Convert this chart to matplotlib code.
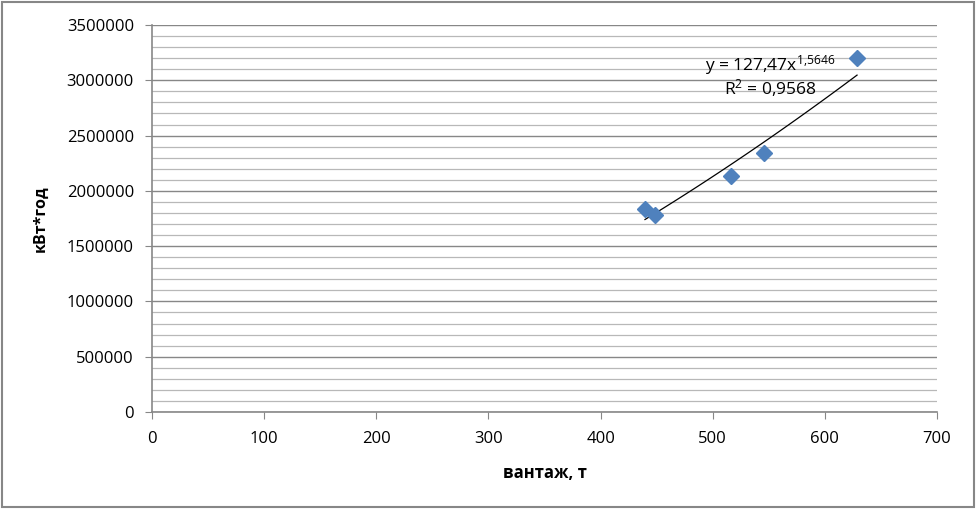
import numpy as np
import matplotlib.pyplot as plt
from matplotlib.patches import Rectangle
from matplotlib.ticker import MultipleLocator

# data
load_t = [439.6, 448.5, 516.3, 545.7, 628.7]
energy_kwh = [1836000, 1782000, 2134000, 2342000, 3202000]

# power trendline as shown in the chart
coef_a = 127.47
coef_b = 1.5646
eq_text = "y = 127,47x$^{1{,}5646}$"
r2_text = "R$^{2}$ = 0,9568"

plt.rcParams['font.family'] = ['Open Sans', 'DejaVu Sans']
plt.rcParams['mathtext.fontset'] = 'custom'
plt.rcParams['mathtext.rm'] = 'Open Sans'
plt.rcParams['mathtext.it'] = 'Open Sans'
plt.rcParams['mathtext.default'] = 'rm'

fig = plt.figure(figsize=(9.77, 5.09), dpi=100)
ax = fig.add_axes([152 / 977, 1 - 412 / 509, (937 - 152) / 977, (412 - 25) / 509])

# gridlines: minor every 100000, major every 500000
ax.set_xlim(0, 700)
ax.set_ylim(0, 3500000)
ax.xaxis.set_major_locator(MultipleLocator(100))
ax.yaxis.set_major_locator(MultipleLocator(500000))
ax.yaxis.set_minor_locator(MultipleLocator(100000))
ax.grid(axis='y', which='major', color='#878787', linewidth=1.0)
ax.grid(axis='y', which='minor', color='#b8b8b8', linewidth=0.9)
ax.set_axisbelow(True)
ax.tick_params(axis='y', which='minor', length=0)
ax.tick_params(axis='both', which='major', direction='out', length=5, color='#878787',
               labelsize=12, labelcolor='black')
ax.tick_params(axis='x', pad=9)
ax.tick_params(axis='y', pad=8)
ax.yaxis.set_major_formatter(plt.FuncFormatter(lambda v, p: f"{int(v)}"))

for side in ['top', 'right']:
    ax.spines[side].set_visible(False)
for side in ['left', 'bottom']:
    ax.spines[side].set_color('#878787')
    ax.spines[side].set_linewidth(1.2)

# points
ax.plot(load_t, energy_kwh, linestyle='none', marker='D', markersize=8,
        color='#4F81BD', markeredgecolor='#4F81BD', zorder=3)

# trendline
xs = np.linspace(min(load_t), max(load_t), 100)
ax.plot(xs, coef_a * xs ** coef_b, color='black', linewidth=0.9, zorder=2)

ax.text(551, 3138000, eq_text, fontsize=12.5, ha='center', va='center')
ax.text(551, 2930000, r2_text, fontsize=12.5, ha='center', va='center')

ax.set_xlabel("вантаж, т", fontsize=12, fontweight='bold', labelpad=12)
ax.set_ylabel("кВт*год", fontsize=11.5, fontweight='bold', labelpad=13)

# outer chart border
fig.patches.append(Rectangle((0.002, 0.003), 0.995, 0.993, transform=fig.transFigure,
                             fill=False, edgecolor='#878787', linewidth=1.5))

plt.savefig("out.png", dpi=100)
